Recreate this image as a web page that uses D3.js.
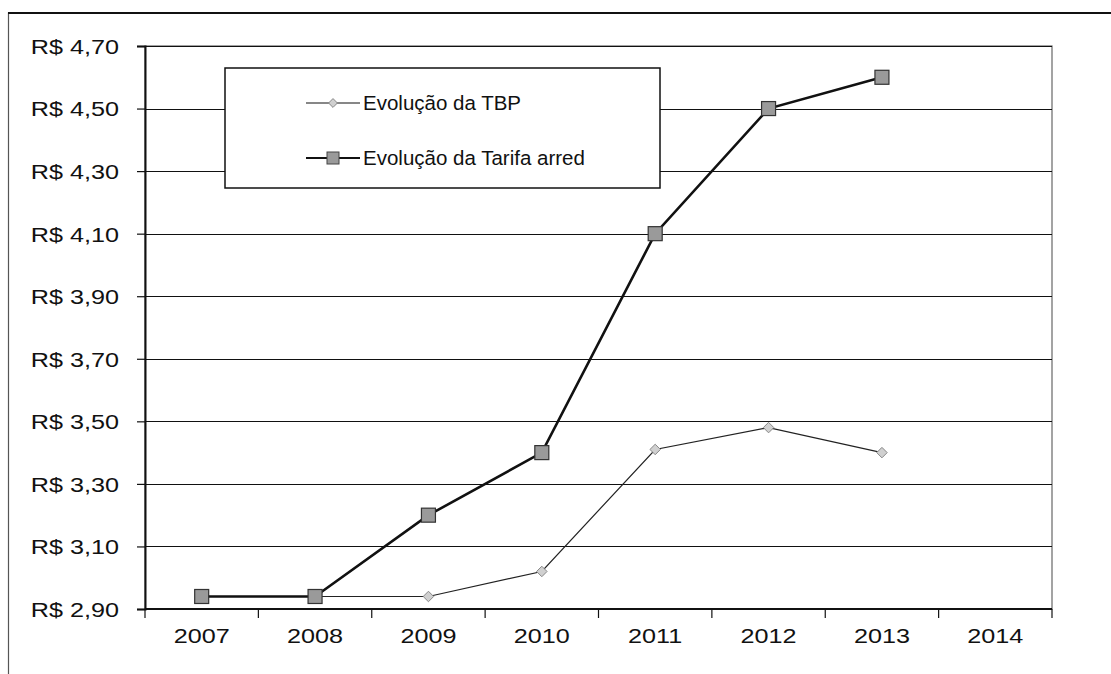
<!DOCTYPE html>
<html>
<head>
<meta charset="utf-8">
<script src="https://cdn.jsdelivr.net/npm/d3@7"></script>
<style>
  body { margin: 0; background: #fff; }
  text { font-family: "Liberation Sans", Arial, sans-serif; fill: #111; }
</style>
</head>
<body>
<div id="chart"></div>
<script>
// values
const years = ["2007", "2008", "2009", "2010", "2011", "2012", "2013", "2014"];
const tbp = [2.94, 2.94, 2.94, 3.02, 3.41, 3.48, 3.40, null];
const tarifa = [2.94, 2.94, 3.20, 3.40, 4.10, 4.50, 4.60, null];
const yTicks = [2.90, 3.10, 3.30, 3.50, 3.70, 3.90, 4.10, 4.30, 4.50, 4.70];
const seriesNames = ["Evolução da TBP", "Evolução da Tarifa arred"];

const W = 1111, H = 674;
const margin = { top: 46, right: 59, bottom: 65, left: 145 };
const width = W - margin.left - margin.right;
const height = H - margin.top - margin.bottom;

const svg = d3.select("#chart").append("svg")
  .attr("width", W)
  .attr("height", H);

// outer frame (runs off the page on the right and bottom)
svg.append("rect")
  .attr("x", 8.5).attr("y", 13)
  .attr("width", 1130).attr("height", 700)
  .attr("fill", "none")
  .attr("stroke", "#555")
  .attr("stroke-width", 1.2);
svg.append("line")
  .attr("x1", 8).attr("x2", W).attr("y1", 13).attr("y2", 13)
  .attr("stroke", "#111").attr("stroke-width", 2);

const g = svg.append("g")
  .attr("transform", "translate(" + margin.left + "," + margin.top + ")");

const x = d3.scaleBand().domain(years).range([0, width]);
const y = d3.scaleLinear().domain([2.90, 4.70]).range([height, 0]);

const fmt = v => "R$ " + v.toFixed(2).replace(".", ",");

// plot area border
g.append("rect")
  .attr("x", 0).attr("y", 0)
  .attr("width", width).attr("height", height)
  .attr("fill", "none")
  .attr("stroke", "#666")
  .attr("stroke-width", 1.2);

// grid lines
g.append("g")
  .selectAll("line")
  .data(yTicks)
  .join("line")
  .attr("x1", 0).attr("x2", width)
  .attr("y1", d => Math.round(y(d)) + 0.5)
  .attr("y2", d => Math.round(y(d)) + 0.5)
  .attr("stroke", "#111")
  .attr("stroke-width", 1.2);

// y axis
const yAxis = g.append("g")
  .call(d3.axisLeft(y).tickValues(yTicks).tickSize(8).tickFormat(fmt).tickPadding(18));
yAxis.select(".domain").attr("stroke", "#111").attr("stroke-width", 2);
yAxis.selectAll(".tick line").attr("stroke", "#111").attr("stroke-width", 1.2);
yAxis.selectAll(".tick text")
  .attr("font-size", 21)
  .attr("dy", "0.35em")
  .attr("transform", function () {
    const tx = +d3.select(this).attr("x");
    return "translate(" + tx + ",0) scale(1.2,1)";
  })
  .attr("x", 0);

// x axis, ticks between categories
const xAxis = g.append("g")
  .attr("transform", "translate(0," + height + ")");
xAxis.append("line")
  .attr("x1", 0).attr("x2", width)
  .attr("stroke", "#111").attr("stroke-width", 2);
const bounds = years.map(d => x(d)).concat([width]);
xAxis.selectAll("line.tk")
  .data(bounds)
  .join("line")
  .attr("class", "tk")
  .attr("x1", d => d).attr("x2", d => d)
  .attr("y1", 0).attr("y2", 9)
  .attr("stroke", "#111").attr("stroke-width", 1.2);
xAxis.selectAll("text")
  .data(years)
  .join("text")
  .attr("transform", d => "translate(" + (x(d) + x.bandwidth() / 2) + ",34) scale(1.2,1)")
  .attr("text-anchor", "middle")
  .attr("font-size", 21)
  .text(d => d);

const cx = (d, i) => x(years[i]) + x.bandwidth() / 2;
const line = d3.line()
  .defined(d => d != null)
  .x(cx)
  .y(d => y(d));

// TBP (thin line, small diamonds)
g.append("path")
  .datum(tbp)
  .attr("fill", "none")
  .attr("stroke", "#222")
  .attr("stroke-width", 1.2)
  .attr("d", line);

// Tarifa (thick line, squares)
g.append("path")
  .datum(tarifa)
  .attr("fill", "none")
  .attr("stroke", "#111")
  .attr("stroke-width", 2.6)
  .attr("d", line);

const diamond = d3.symbol().type(d3.symbolDiamond2).size(70);

g.selectAll("path.tbp")
  .data(tbp)
  .join("path")
  .attr("class", "tbp")
  .filter(d => d != null)
  .attr("transform", (d, i) => "translate(" + cx(d, tbp.indexOf(d) >= 0 ? i : i) + "," + y(d) + ")")
  .attr("d", diamond)
  .attr("fill", "#d0d0d0")
  .attr("stroke", "#888")
  .attr("stroke-width", 1);

g.selectAll("rect.tar")
  .data(tarifa)
  .join("rect")
  .attr("class", "tar")
  .filter(d => d != null)
  .attr("x", (d, i) => cx(d, i) - 7)
  .attr("y", d => y(d) - 7)
  .attr("width", 14).attr("height", 14)
  .attr("fill", "#9a9a9a")
  .attr("stroke", "#333")
  .attr("stroke-width", 1.2);

// legend
const lg = svg.append("g").attr("transform", "translate(225,68)");
lg.append("rect")
  .attr("width", 435).attr("height", 120)
  .attr("fill", "#fff")
  .attr("stroke", "#111")
  .attr("stroke-width", 1.5);

const rows = [35, 90];
seriesNames.forEach((name, i) => {
  const r = lg.append("g").attr("transform", "translate(81," + rows[i] + ")");
  r.append("line")
    .attr("x1", 0).attr("x2", 54)
    .attr("stroke", "#111")
    .attr("stroke-width", i === 0 ? 1.2 : 2);
  if (i === 0) {
    r.append("path")
      .attr("transform", "translate(27,0)")
      .attr("d", d3.symbol().type(d3.symbolDiamond2).size(50))
      .attr("fill", "#d0d0d0").attr("stroke", "#888");
  } else {
    r.append("rect")
      .attr("x", 21).attr("y", -6)
      .attr("width", 12).attr("height", 12)
      .attr("fill", "#9a9a9a").attr("stroke", "#444");
  }
  r.append("text")
    .attr("x", 57)
    .attr("dy", "0.35em")
    .attr("font-size", 20.5)
    .text(name);
});
</script>
</body>
</html>
